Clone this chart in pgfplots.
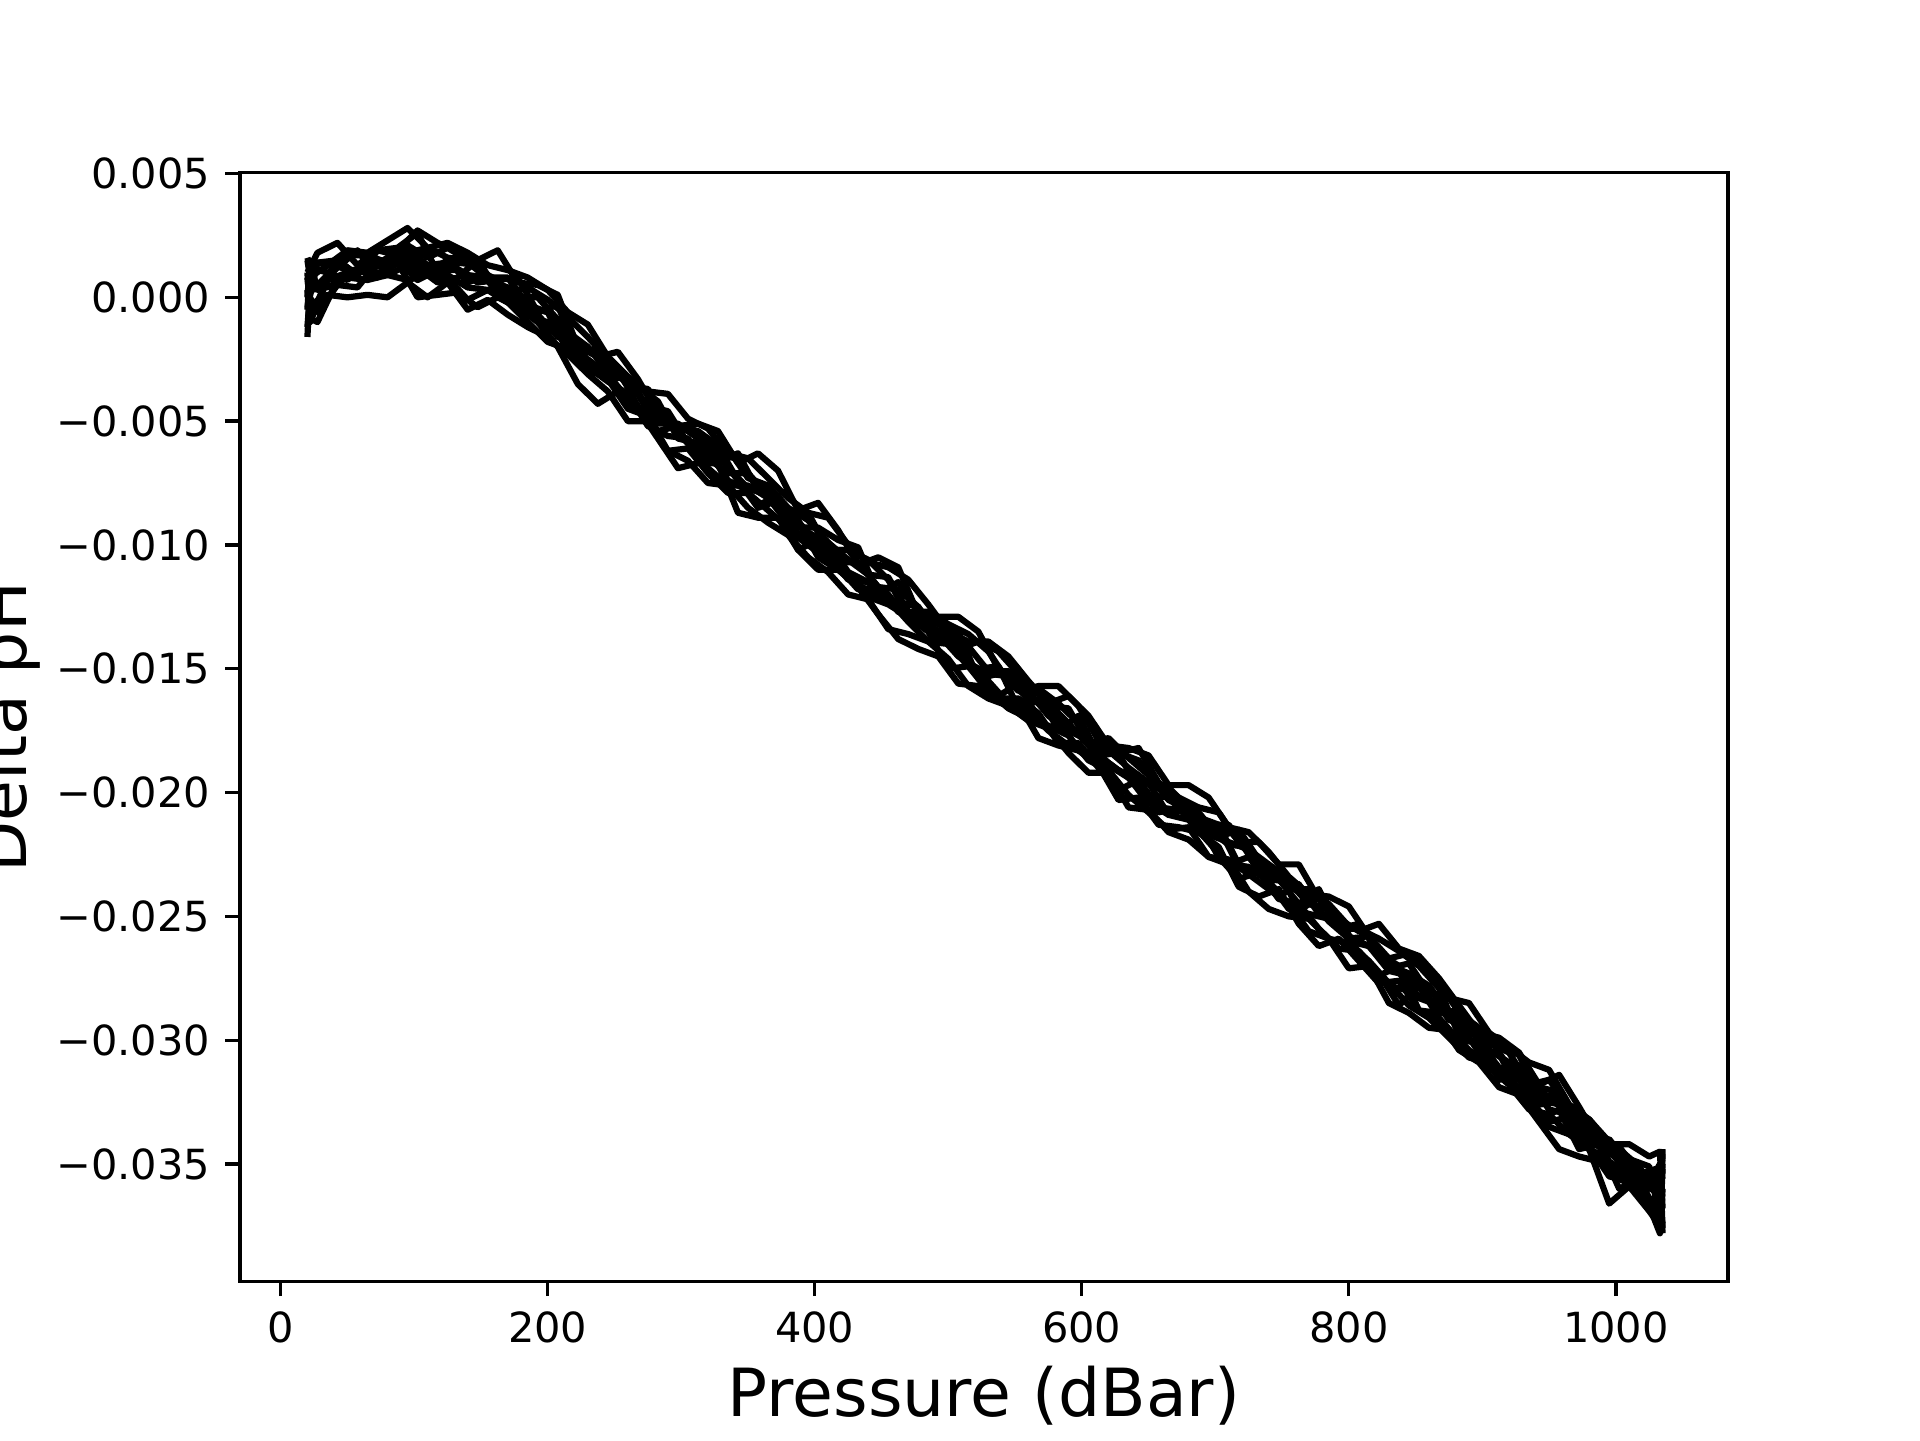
\documentclass[border=0pt]{standalone}
\usepackage{fontspec}
\setmainfont{DejaVu Sans}
\usepackage{pgfplots}
\pgfplotsset{compat=1.18}
\usepackage{pgfplotstable}
\pgfplotstableread{
p a b c d e f g h
20 0.0015 -0.0012 0.0010 -0.0005 0.0003 -0.0016 0.0008 0.0000
22 0.0008 0.0002 -0.0008 0.0012 -0.0010 0.0006 -0.0003 0.0014
35 0.0013 0.0009 0.0007 0.0010 0.0007 0.0004 0.0001 0.0014
50 0.0019 0.0017 0.0010 0.0007 0.0009 0.0008 0.0000 0.0011
65 0.0018 0.0017 0.0013 0.0016 0.0011 0.0007 0.0001 0.0011
80 0.0023 0.0014 0.0012 0.0011 0.0009 0.0009 0.0000 0.0016
95 0.0028 0.0021 0.0019 0.0018 0.0007 0.0013 0.0006 0.0018
110 0.0020 0.0016 0.0013 0.0010 0.0009 0.0009 0.0000 0.0020
125 0.0022 0.0020 0.0014 0.0015 0.0009 0.0008 0.0006 0.0016
140 0.0018 0.0015 0.0009 0.0006 0.0004 -0.0001 -0.0005 0.0015
155 0.0013 0.0008 0.0008 0.0009 0.0003 0.0003 -0.0001 0.0007
170 0.0011 0.0002 0.0008 0.0001 -0.0002 -0.0002 -0.0007 0.0004
185 0.0008 0.0004 -0.0003 -0.0004 -0.0005 -0.0010 -0.0012 -0.0003
200 0.0003 -0.0001 -0.0013 -0.0006 -0.0013 -0.0018 -0.0016 -0.0006
215 -0.0006 -0.0008 -0.0012 -0.0022 -0.0016 -0.0021 -0.0023 -0.0014
230 -0.0011 -0.0016 -0.0026 -0.0025 -0.0028 -0.0029 -0.0031 -0.0020
245 -0.0024 -0.0025 -0.0032 -0.0031 -0.0034 -0.0033 -0.0038 -0.0030
260 -0.0032 -0.0036 -0.0033 -0.0041 -0.0039 -0.0045 -0.0050 -0.0032
275 -0.0038 -0.0037 -0.0044 -0.0047 -0.0052 -0.0048 -0.0050 -0.0046
290 -0.0039 -0.0051 -0.0046 -0.0051 -0.0056 -0.0062 -0.0062 -0.0052
305 -0.0049 -0.0054 -0.0059 -0.0059 -0.0057 -0.0061 -0.0066 -0.0052
320 -0.0053 -0.0059 -0.0065 -0.0062 -0.0069 -0.0071 -0.0075 -0.0058
335 -0.0063 -0.0061 -0.0071 -0.0074 -0.0076 -0.0079 -0.0076 -0.0069
350 -0.0065 -0.0073 -0.0071 -0.0078 -0.0076 -0.0079 -0.0085 -0.0077
365 -0.0073 -0.0076 -0.0080 -0.0078 -0.0081 -0.0086 -0.0091 -0.0080
380 -0.0081 -0.0085 -0.0086 -0.0086 -0.0091 -0.0093 -0.0096 -0.0090
395 -0.0087 -0.0090 -0.0097 -0.0095 -0.0100 -0.0098 -0.0105 -0.0087
410 -0.0089 -0.0099 -0.0102 -0.0099 -0.0104 -0.0103 -0.0111 -0.0102
425 -0.0100 -0.0106 -0.0102 -0.0111 -0.0114 -0.0111 -0.0120 -0.0102
440 -0.0107 -0.0112 -0.0112 -0.0115 -0.0115 -0.0121 -0.0122 -0.0106
455 -0.0109 -0.0113 -0.0122 -0.0120 -0.0122 -0.0124 -0.0134 -0.0114
470 -0.0114 -0.0127 -0.0130 -0.0130 -0.0131 -0.0129 -0.0136 -0.0129
485 -0.0124 -0.0127 -0.0134 -0.0132 -0.0139 -0.0135 -0.0139 -0.0130
500 -0.0135 -0.0132 -0.0135 -0.0138 -0.0140 -0.0150 -0.0146 -0.0134
515 -0.0139 -0.0136 -0.0148 -0.0148 -0.0149 -0.0149 -0.0157 -0.0141
530 -0.0139 -0.0143 -0.0153 -0.0152 -0.0155 -0.0159 -0.0162 -0.0151
545 -0.0145 -0.0155 -0.0151 -0.0153 -0.0164 -0.0166 -0.0165 -0.0151
560 -0.0155 -0.0162 -0.0163 -0.0161 -0.0167 -0.0170 -0.0171 -0.0159
575 -0.0164 -0.0165 -0.0164 -0.0167 -0.0175 -0.0173 -0.0174 -0.0169
590 -0.0161 -0.0166 -0.0172 -0.0174 -0.0181 -0.0177 -0.0184 -0.0175
605 -0.0169 -0.0180 -0.0181 -0.0178 -0.0185 -0.0187 -0.0192 -0.0179
620 -0.0181 -0.0178 -0.0188 -0.0189 -0.0189 -0.0191 -0.0192 -0.0183
635 -0.0182 -0.0186 -0.0194 -0.0193 -0.0194 -0.0201 -0.0206 -0.0190
650 -0.0185 -0.0193 -0.0201 -0.0196 -0.0204 -0.0208 -0.0207 -0.0196
665 -0.0197 -0.0203 -0.0202 -0.0209 -0.0209 -0.0215 -0.0216 -0.0198
680 -0.0197 -0.0207 -0.0208 -0.0206 -0.0211 -0.0214 -0.0219 -0.0206
695 -0.0202 -0.0213 -0.0213 -0.0217 -0.0220 -0.0226 -0.0226 -0.0215
710 -0.0214 -0.0213 -0.0215 -0.0220 -0.0229 -0.0229 -0.0227 -0.0221
725 -0.0216 -0.0225 -0.0224 -0.0223 -0.0226 -0.0230 -0.0240 -0.0222
740 -0.0224 -0.0230 -0.0232 -0.0229 -0.0236 -0.0236 -0.0247 -0.0235
755 -0.0234 -0.0239 -0.0238 -0.0235 -0.0247 -0.0245 -0.0250 -0.0236
770 -0.0241 -0.0239 -0.0242 -0.0245 -0.0249 -0.0256 -0.0251 -0.0245
785 -0.0242 -0.0245 -0.0252 -0.0247 -0.0251 -0.0259 -0.0259 -0.0247
800 -0.0246 -0.0254 -0.0259 -0.0258 -0.0258 -0.0261 -0.0271 -0.0260
815 -0.0258 -0.0257 -0.0258 -0.0262 -0.0272 -0.0268 -0.0270 -0.0262
830 -0.0267 -0.0271 -0.0270 -0.0272 -0.0278 -0.0277 -0.0285 -0.0267
845 -0.0265 -0.0269 -0.0273 -0.0274 -0.0280 -0.0286 -0.0289 -0.0278
860 -0.0273 -0.0281 -0.0278 -0.0283 -0.0284 -0.0291 -0.0295 -0.0278
875 -0.0283 -0.0283 -0.0289 -0.0290 -0.0291 -0.0299 -0.0296 -0.0292
890 -0.0285 -0.0294 -0.0297 -0.0294 -0.0299 -0.0307 -0.0304 -0.0292
905 -0.0297 -0.0301 -0.0299 -0.0304 -0.0311 -0.0309 -0.0311 -0.0298
920 -0.0303 -0.0305 -0.0311 -0.0309 -0.0315 -0.0316 -0.0318 -0.0313
935 -0.0309 -0.0318 -0.0321 -0.0317 -0.0324 -0.0325 -0.0328 -0.0318
950 -0.0312 -0.0316 -0.0325 -0.0328 -0.0333 -0.0335 -0.0330 -0.0323
965 -0.0326 -0.0327 -0.0327 -0.0330 -0.0331 -0.0338 -0.0338 -0.0330
980 -0.0332 -0.0334 -0.0341 -0.0337 -0.0341 -0.0343 -0.0344 -0.0332
995 -0.0342 -0.0346 -0.0340 -0.0349 -0.0345 -0.0355 -0.0366 -0.0341
1010 -0.0342 -0.0348 -0.0350 -0.0354 -0.0353 -0.0357 -0.0359 -0.0355
1025 -0.0347 -0.0351 -0.0358 -0.0364 -0.0367 -0.0367 -0.0369 -0.0354
1033 -0.0345 -0.0372 -0.0350 -0.0370 -0.0378 -0.0360 -0.0375 -0.0368
1035 -0.0368 -0.0350 -0.0376 -0.0346 -0.0360 -0.0378 -0.0352 -0.0344
}\datatable
\pgfplotstableread{
p i j k l m n
20 0.0010 -0.0004 0.0016 0.0002 -0.0008 0.0006
27.5 0.0018 0.0014 0.0004 -0.0006 -0.0010 0.0003
42.5 0.0022 0.0015 0.0012 0.0005 0.0007 0.0015
57.5 0.0013 0.0009 0.0019 0.0004 0.0011 0.0009
72.5 0.0019 0.0019 0.0008 0.0014 0.0008 0.0019
87.5 0.0019 0.0020 0.0020 0.0015 0.0014 0.0017
102.5 0.0027 0.0026 0.0012 0.0007 0.0000 0.0010
117.5 0.0022 0.0010 0.0006 0.0011 0.0001 0.0013
132.5 0.0018 0.0017 0.0008 0.0011 0.0002 0.0014
147.5 0.0015 0.0011 0.0015 0.0006 -0.0004 0.0013
162.5 0.0019 0.0007 0.0003 0.0007 0.0000 0.0001
177.5 0.0006 0.0008 0.0000 -0.0003 -0.0004 -0.0003
192.5 0.0005 -0.0006 0.0000 -0.0009 -0.0010 -0.0007
207.5 0.0001 -0.0003 -0.0009 -0.0011 -0.0020 -0.0016
222.5 -0.0020 -0.0024 -0.0022 -0.0026 -0.0035 -0.0019
237.5 -0.0024 -0.0020 -0.0021 -0.0028 -0.0043 -0.0023
252.5 -0.0022 -0.0032 -0.0039 -0.0038 -0.0038 -0.0029
267.5 -0.0033 -0.0036 -0.0046 -0.0039 -0.0045 -0.0044
282.5 -0.0047 -0.0042 -0.0046 -0.0051 -0.0057 -0.0054
297.5 -0.0052 -0.0057 -0.0055 -0.0051 -0.0069 -0.0052
312.5 -0.0051 -0.0059 -0.0061 -0.0057 -0.0067 -0.0054
327.5 -0.0054 -0.0066 -0.0064 -0.0063 -0.0067 -0.0060
342.5 -0.0067 -0.0063 -0.0065 -0.0074 -0.0087 -0.0074
357.5 -0.0063 -0.0078 -0.0077 -0.0085 -0.0089 -0.0084
372.5 -0.0070 -0.0084 -0.0084 -0.0082 -0.0089 -0.0080
387.5 -0.0086 -0.0093 -0.0090 -0.0102 -0.0102 -0.0097
402.5 -0.0083 -0.0093 -0.0105 -0.0098 -0.0110 -0.0103
417.5 -0.0094 -0.0098 -0.0110 -0.0109 -0.0110 -0.0107
432.5 -0.0108 -0.0101 -0.0116 -0.0118 -0.0117 -0.0107
447.5 -0.0105 -0.0120 -0.0121 -0.0117 -0.0128 -0.0117
462.5 -0.0109 -0.0115 -0.0123 -0.0127 -0.0138 -0.0118
477.5 -0.0128 -0.0127 -0.0125 -0.0130 -0.0142 -0.0125
492.5 -0.0129 -0.0138 -0.0139 -0.0136 -0.0145 -0.0136
507.5 -0.0129 -0.0142 -0.0135 -0.0139 -0.0156 -0.0145
522.5 -0.0135 -0.0139 -0.0154 -0.0153 -0.0157 -0.0150
537.5 -0.0150 -0.0143 -0.0161 -0.0162 -0.0163 -0.0149
552.5 -0.0159 -0.0152 -0.0156 -0.0162 -0.0164 -0.0166
567.5 -0.0157 -0.0160 -0.0170 -0.0168 -0.0178 -0.0158
582.5 -0.0157 -0.0175 -0.0179 -0.0180 -0.0181 -0.0164
597.5 -0.0165 -0.0169 -0.0183 -0.0180 -0.0183 -0.0172
612.5 -0.0179 -0.0185 -0.0184 -0.0190 -0.0189 -0.0185
627.5 -0.0184 -0.0191 -0.0184 -0.0199 -0.0203 -0.0184
642.5 -0.0182 -0.0195 -0.0199 -0.0195 -0.0202 -0.0187
657.5 -0.0196 -0.0198 -0.0208 -0.0206 -0.0213 -0.0196
672.5 -0.0202 -0.0206 -0.0206 -0.0207 -0.0214 -0.0204
687.5 -0.0206 -0.0208 -0.0214 -0.0212 -0.0216 -0.0210
702.5 -0.0208 -0.0218 -0.0214 -0.0226 -0.0222 -0.0213
717.5 -0.0220 -0.0215 -0.0230 -0.0235 -0.0238 -0.0229
732.5 -0.0220 -0.0227 -0.0236 -0.0232 -0.0242 -0.0232
747.5 -0.0229 -0.0235 -0.0242 -0.0243 -0.0239 -0.0231
762.5 -0.0229 -0.0245 -0.0237 -0.0245 -0.0253 -0.0248
777.5 -0.0243 -0.0239 -0.0249 -0.0255 -0.0262 -0.0242
792.5 -0.0251 -0.0255 -0.0250 -0.0263 -0.0259 -0.0255
807.5 -0.0256 -0.0255 -0.0265 -0.0264 -0.0268 -0.0253
822.5 -0.0253 -0.0259 -0.0274 -0.0273 -0.0277 -0.0265
837.5 -0.0263 -0.0264 -0.0270 -0.0286 -0.0276 -0.0270
852.5 -0.0266 -0.0270 -0.0288 -0.0278 -0.0288 -0.0283
867.5 -0.0275 -0.0279 -0.0289 -0.0291 -0.0292 -0.0286
882.5 -0.0286 -0.0298 -0.0288 -0.0300 -0.0304 -0.0290
897.5 -0.0297 -0.0302 -0.0301 -0.0301 -0.0309 -0.0296
912.5 -0.0299 -0.0302 -0.0311 -0.0316 -0.0319 -0.0313
927.5 -0.0305 -0.0306 -0.0314 -0.0314 -0.0322 -0.0310
942.5 -0.0318 -0.0322 -0.0326 -0.0332 -0.0333 -0.0319
957.5 -0.0314 -0.0323 -0.0325 -0.0328 -0.0344 -0.0321
972.5 -0.0327 -0.0339 -0.0342 -0.0344 -0.0347 -0.0333
987.5 -0.0341 -0.0340 -0.0346 -0.0342 -0.0349 -0.0341
1002.5 -0.0343 -0.0344 -0.0354 -0.0360 -0.0356 -0.0344
1017.5 -0.0354 -0.0358 -0.0360 -0.0356 -0.0360 -0.0351
1030 -0.0352 -0.0361 -0.0358 -0.0369 -0.0369 -0.0362
1035 -0.0356 -0.0374 -0.0348 -0.0362 -0.0372 -0.0355
}\datatableb
\begin{document}
\begin{tikzpicture}
\path[use as bounding box] (0,0) rectangle (6.4in,4.8in);
\begin{axis}[
  at={(0.8in,0.528in)}, anchor=south west,
  width=4.96in, height=3.696in, scale only axis,
  xmin=-30.5, xmax=1084, ymin=-0.03975, ymax=0.00503,
  axis line style={line width=0.8pt, black},
  tick align=outside, major tick length=3.5pt,
  every tick/.style={line width=0.8pt, black},
  xtick={0,200,400,600,800,1000},
  xticklabels={0,200,400,600,800,1000},
  ytick={-0.035,-0.030,-0.025,-0.020,-0.015,-0.010,-0.005,0,0.005},
  yticklabels={−0.035,−0.030,−0.025,−0.020,−0.015,−0.010,−0.005,0.000,0.005},
  scaled y ticks=false,
  xtick pos=bottom, ytick pos=left,
  ticklabel style={font=\fontsize{10}{12}\selectfont, inner sep=0pt},
  xticklabel style={anchor=north, yshift=-3.5pt},
  yticklabel style={anchor=east, xshift=-3.5pt},
  xlabel={Pressure (dBar)}, ylabel={Delta pH},
  label style={font=\fontsize{16}{19}\selectfont, inner sep=0pt},
  xlabel style={at={(axis description cs:0.5,0)}, anchor=base, yshift=-32.4pt},
  ylabel style={at={(axis description cs:-0.1438,0.5)}, anchor=base},
]
\addplot[black, line width=1.5pt, line join=round] table[x=p,y=a]{\datatable};
\addplot[black, line width=1.5pt, line join=round] table[x=p,y=b]{\datatable};
\addplot[black, line width=1.5pt, line join=round] table[x=p,y=c]{\datatable};
\addplot[black, line width=1.5pt, line join=round] table[x=p,y=d]{\datatable};
\addplot[black, line width=1.5pt, line join=round] table[x=p,y=e]{\datatable};
\addplot[black, line width=1.5pt, line join=round] table[x=p,y=f]{\datatable};
\addplot[black, line width=1.5pt, line join=round] table[x=p,y=g]{\datatable};
\addplot[black, line width=1.5pt, line join=round] table[x=p,y=h]{\datatable};
\addplot[black, line width=1.5pt, line join=round] table[x=p,y=i]{\datatableb};
\addplot[black, line width=1.5pt, line join=round] table[x=p,y=j]{\datatableb};
\addplot[black, line width=1.5pt, line join=round] table[x=p,y=k]{\datatableb};
\addplot[black, line width=1.5pt, line join=round] table[x=p,y=l]{\datatableb};
\addplot[black, line width=1.5pt, line join=round] table[x=p,y=m]{\datatableb};
\addplot[black, line width=1.5pt, line join=round] table[x=p,y=n]{\datatableb};
\end{axis}
\end{tikzpicture}
\end{document}
